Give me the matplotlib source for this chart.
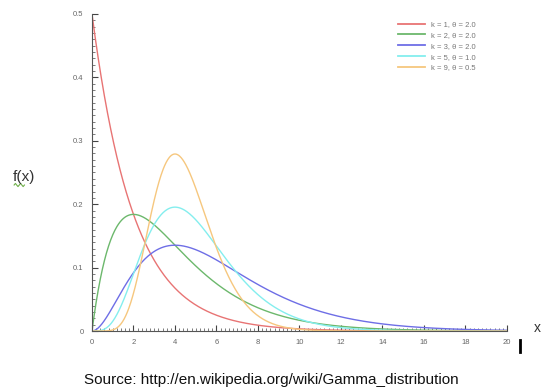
import numpy as np
import matplotlib
matplotlib.use("Agg")
import matplotlib.pyplot as plt
from matplotlib.lines import Line2D
from math import gamma as gamma_fn

# shape / scale parameters shown in the legend
shapes = [1, 2, 3, 5, 9]
scales = [2.0, 2.0, 2.0, 1.0, 0.5]
colors = ["#e87474", "#6cb86c", "#6e6ee6", "#84eeee", "#f6c77e"]
labels = ["k = {}, \u03b8 = {}".format(k, t) for k, t in zip(shapes, scales)]

x_ticks = [0, 2, 4, 6, 8, 10, 12, 14, 16, 18, 20]
y_ticks = [0, 0.1, 0.2, 0.3, 0.4, 0.5]
y_tick_labels = ["0", "0.1", "0.2", "0.3", "0.4", "0.5"]


def gamma_pdf(x, k, theta):
    return x ** (k - 1) * np.exp(-x / theta) / (gamma_fn(k) * theta ** k)


plt.rcParams["font.family"] = ["Liberation Sans", "DejaVu Sans"]

fig = plt.figure(figsize=(5.43, 3.92), dpi=100)
ax = fig.add_axes([0.1694, 0.1556, 0.7643, 0.8087])

xs = np.linspace(0, 20, 801)
for k, t, c, lab in zip(shapes, scales, colors, labels):
    ax.plot(xs, gamma_pdf(xs, k, t), color=c, lw=1.0, label=lab)

ax.set_xlim(0, 20)
ax.set_ylim(0, 0.5)
ax.set_xticks(x_ticks)
ax.set_xticklabels([str(v) for v in x_ticks])
ax.set_yticks(y_ticks)
ax.set_yticklabels(y_tick_labels)
ax.set_xticks(np.arange(0, 20.01, 0.2), minor=True)
ax.set_yticks(np.arange(0, 0.501, 0.01), minor=True)

for side in ["top", "right"]:
    ax.spines[side].set_visible(False)
for side in ["left", "bottom"]:
    ax.spines[side].set_color("#555555")
    ax.spines[side].set_linewidth(0.8)

ax.tick_params(which="major", direction="in", length=4, width=0.8,
               color="#444444", labelsize=5.5, labelcolor="#666666", pad=6)
ax.tick_params(which="minor", direction="in", length=2, width=0.6,
               color="#666666")

leg = ax.legend(loc="upper right", bbox_to_anchor=(0.94, 1.0), frameon=False,
                fontsize=5.5, handlelength=3.6, handletextpad=0.7,
                labelspacing=0.45, labelcolor="#777777")
for h in leg.get_lines():
    h.set_linewidth(1.3)

# axis labels placed as in the reference
fig.text(0.024, 0.538, "f(x)", fontsize=11, color="#333333")
fig.text(0.983, 0.152, "x", fontsize=10, color="#333333")

# squiggly underline marks and cursor
sq_x = np.linspace(0.026, 0.045, 9)
sq_y = 0.528 + 0.004 * np.array([0, 1, 0, -1, 0, 1, 0, -1, 0])
fig.add_artist(Line2D(sq_x, sq_y, color="#6fb04a", lw=0.8))
fig.add_artist(Line2D([0.957, 0.957], [0.102, 0.133], color="black", lw=2))

fig.text(0.5, 0.02, "Source: http://en.wikipedia.org/wiki/Gamma_distribution",
         ha="center", fontsize=11, color="#111111")

fig.savefig("out.png", dpi=100)
